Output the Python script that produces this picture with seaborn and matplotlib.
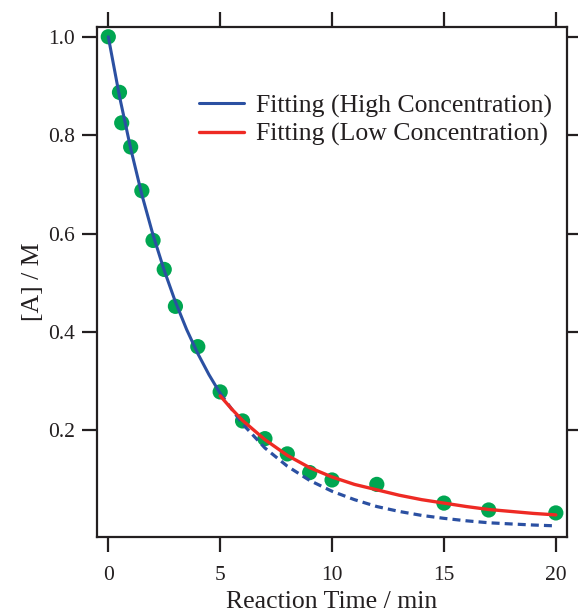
import numpy as np
import pandas as pd
import matplotlib
matplotlib.use("Agg")
import matplotlib.pyplot as plt
import seaborn as sns

# measured points
t_obs = [0, 0.5, 0.6, 1, 1.5, 2, 2.5, 3, 4, 5, 6, 7, 8, 9, 10, 12, 15, 17, 20]
conc_obs = [1.0, 0.887, 0.825, 0.776, 0.687, 0.586, 0.527, 0.452, 0.370, 0.278,
            0.219, 0.183, 0.152, 0.114, 0.099, 0.090, 0.052, 0.038, 0.032]

# fitting curve, high concentration
t_high = [0, 0.5, 1, 1.5, 2, 2.5, 3, 3.5, 4, 4.5, 5, 6, 7, 8, 9, 10,
          11, 12, 13, 14, 15, 16, 17, 18, 19, 20]
conc_high = [1.000, 0.879, 0.773, 0.679, 0.597, 0.525, 0.461, 0.405, 0.356, 0.313,
             0.275, 0.213, 0.164, 0.127, 0.098, 0.076, 0.059, 0.045, 0.035, 0.027,
             0.021, 0.016, 0.012, 0.0096, 0.0074, 0.0057]

# fitting curve, low concentration
t_low = [5, 5.5, 6, 7, 8, 9, 10, 11, 12, 13, 14, 15, 16, 17, 18, 19, 20]
conc_low = [0.270, 0.244, 0.220, 0.181, 0.149, 0.124, 0.105, 0.090, 0.079, 0.068,
            0.059, 0.052, 0.045, 0.039, 0.035, 0.031, 0.028]

green = '#00A651'
blue = '#2B50A2'
red = '#EE2A24'
ink = '#231F20'

sns.set_style("ticks")
plt.rcParams['font.family'] = ['Liberation Serif', 'DejaVu Serif']

high = pd.DataFrame({'t': t_high, 'c': conc_high})
solid = high[high.t <= 5]
dashed = high[high.t >= 5]

fig = plt.figure(figsize=(5.78, 6.12), dpi=100)
ax = fig.add_axes([0.168, 0.1225, 0.813, 0.8335])

sns.scatterplot(x=t_obs, y=conc_obs, color=green, s=120, edgecolor='none', ax=ax, zorder=2)
sns.lineplot(x=solid.t, y=solid.c, color=blue, lw=2.2, ax=ax, zorder=3,
             label='Fitting (High Concentration)')
ax.plot(dashed.t, dashed.c, color=blue, lw=2.3, ls=(0, (2.5, 1.6)), zorder=3)
sns.lineplot(x=t_low, y=conc_low, color=red, lw=2.4, ax=ax, zorder=4,
             label='Fitting (Low Concentration)')

ax.set_xlim(-0.5, 20.5)
ax.set_ylim(-0.017, 1.02)
ax.set_xticks([0, 5, 10, 15, 20])
ax.set_yticks([0.2, 0.4, 0.6, 0.8, 1.0])
ax.set_yticklabels(['0.2', '0.4', '0.6', '0.8', '1.0'])

for s in ax.spines.values():
    s.set_visible(True)
    s.set_linewidth(1.6)
    s.set_color(ink)
ax.tick_params(axis='both', which='both', direction='out', length=11, width=1.6,
               color=ink, labelsize=15.5, labelcolor=ink, pad=5,
               top=True, right=True, labeltop=False, labelright=False)
ax.tick_params(axis='x', pad=9.5)

ax.set_xlabel('Reaction Time / min', fontsize=18.5, color=ink, labelpad=5)
ax.set_ylabel('[A] / M', fontsize=18.5, color=ink, labelpad=3)

leg = ax.legend(loc='upper right', bbox_to_anchor=(0.968, 0.868), frameon=False,
                fontsize=18.5, handlelength=1.75, handletextpad=0.45,
                labelspacing=0.2, borderpad=0, borderaxespad=0)
for txt in leg.get_texts():
    txt.set_color(ink)

fig.savefig('out.png', dpi=100)
